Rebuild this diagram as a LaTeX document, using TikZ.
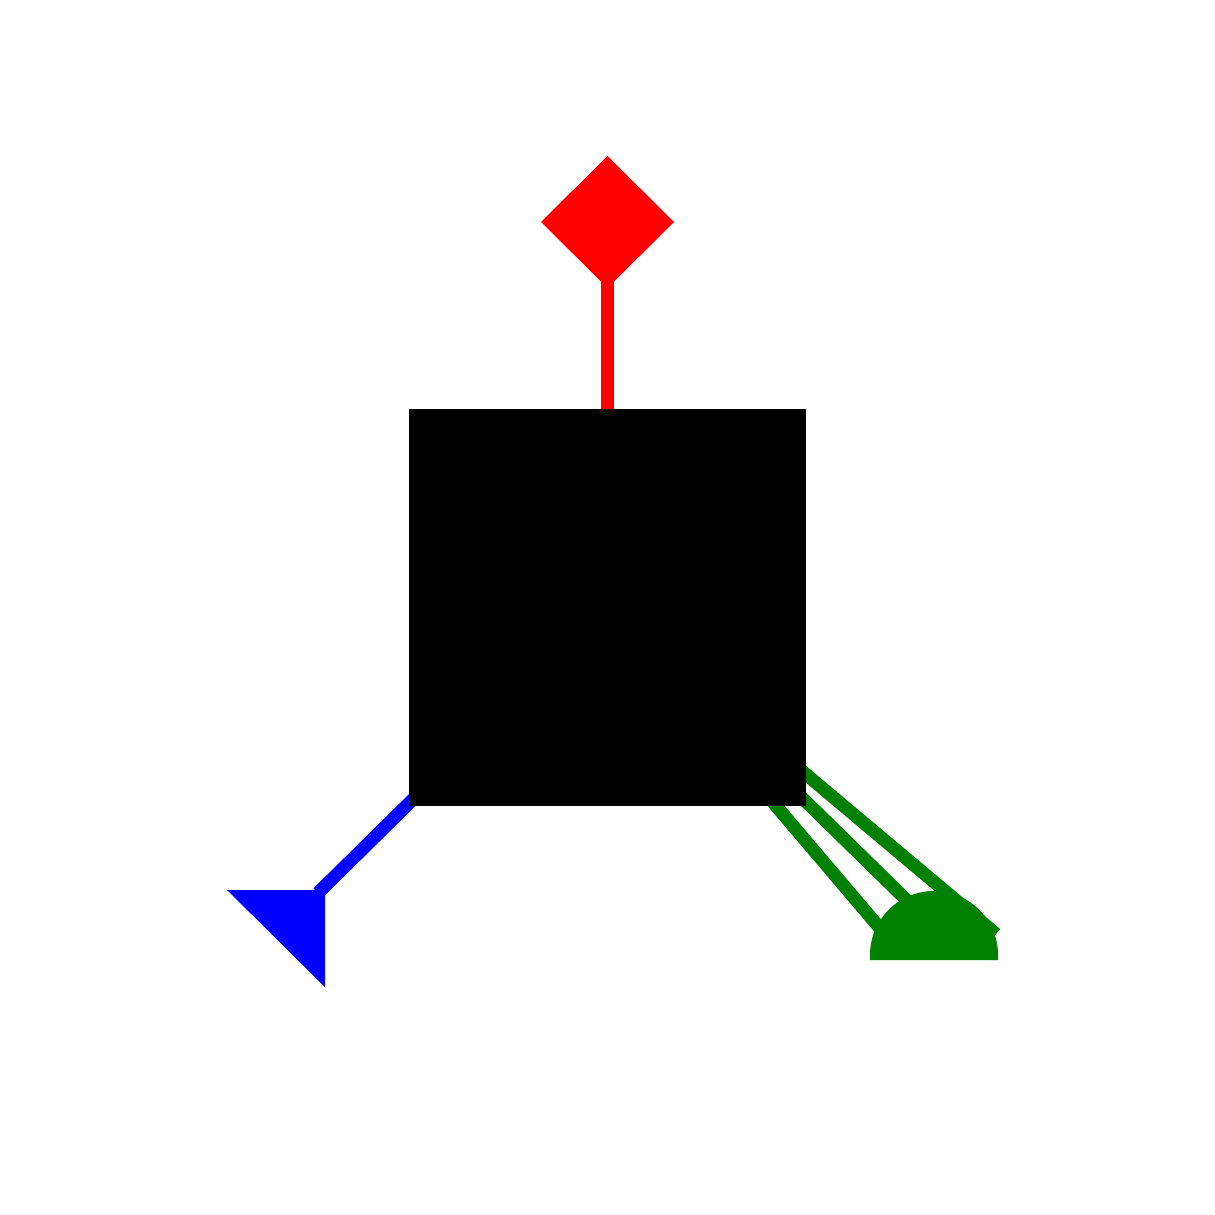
\documentclass[tikz,border=0pt]{standalone}
\begin{document}
\begin{tikzpicture}[x=0.01cm,y=-0.01cm,
  conn/.style={line width=3.7pt}]
\definecolor{grn}{RGB}{0,128,0}
\useasboundingbox (0,0) rectangle (1215,1215);
% anchor points
\coordinate (sqc) at (607.5,607.5);
\coordinate (dia) at (607.5,260);
\coordinate (tri) at (318,893);
\coordinate (g1) at (996,934);
\coordinate (g2) at (925,918);
\coordinate (g3) at (890,940);
% connectors (behind the square)
\draw[conn,draw=red] (sqc) -- (dia);
\draw[conn,draw=blue] (sqc) -- (tri);
\draw[conn,draw=grn] (sqc) -- (g1);
\draw[conn,draw=grn] (sqc) -- (g2);
\draw[conn,draw=grn] (sqc) -- (g3);
% shapes
\fill[black] (409,409) rectangle (806,806);
\fill[red] (607.5,156) -- (674,222) -- (607.5,288) -- (541,222) -- cycle;
\fill[blue] (227,890) -- (325,890) -- (325,987) -- cycle;
\fill[grn] (870,960) -- (870,955) arc[start angle=180,end angle=360,radius=64] -- (998,960) -- cycle;
\end{tikzpicture}
\end{document}
